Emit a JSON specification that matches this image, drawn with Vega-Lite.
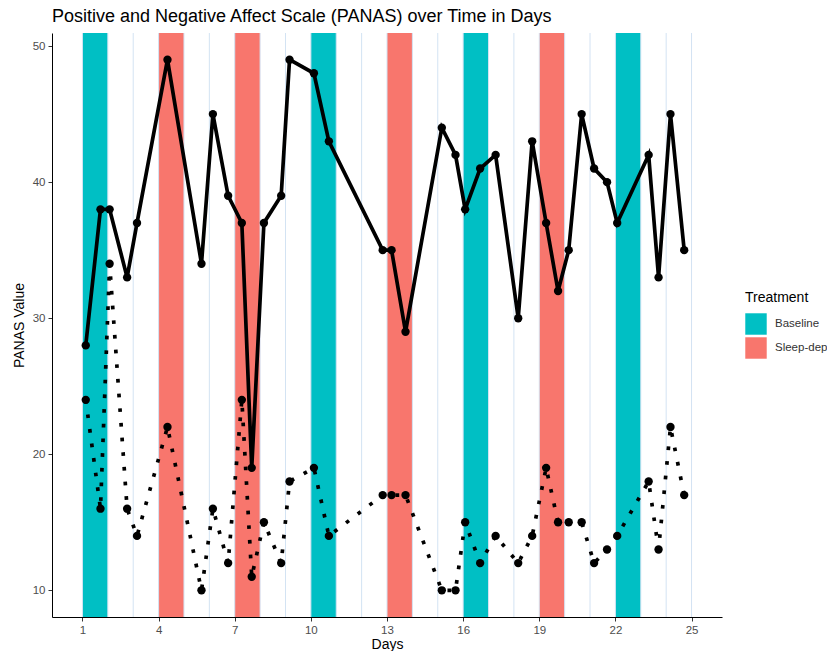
{
  "$schema": "https://vega.github.io/schema/vega-lite/v6.json",
  "autosize": {"type": "none"},
  "padding": {"left": 52, "top": 33, "right": 105, "bottom": 34},
  "width": 670,
  "height": 584,
  "background": "white",
  "title": {
    "text": "Positive and Negative Affect Scale (PANAS) over Time in Days",
    "anchor": "start",
    "frame": "group",
    "fontSize": 18,
    "fontWeight": "normal",
    "font": "Liberation Sans",
    "color": "black",
    "offset": 7
  },
  "config": {
    "view": {"stroke": null},
    "font": "Liberation Sans",
    "axis": {
      "grid": false,
      "domainColor": "black",
      "domainWidth": 1,
      "tickColor": "#333333",
      "tickSize": 4,
      "labelColor": "#4d4d4d",
      "labelFontSize": 11.5,
      "labelFont": "Liberation Sans",
      "titleFont": "Liberation Sans",
      "titleFontSize": 14,
      "titleFontWeight": "normal",
      "titleColor": "black"
    },
    "legend": {
      "titleFont": "Liberation Sans",
      "labelFont": "Liberation Sans"
    }
  },
  "datasets": {
    "bands": [
      {"start": 1, "end": 2, "treatment": "Baseline"},
      {"start": 4, "end": 5, "treatment": "Sleep-deprived"},
      {"start": 7, "end": 8, "treatment": "Sleep-deprived"},
      {"start": 10, "end": 11, "treatment": "Baseline"},
      {"start": 13, "end": 14, "treatment": "Sleep-deprived"},
      {"start": 16, "end": 17, "treatment": "Baseline"},
      {"start": 19, "end": 20, "treatment": "Sleep-deprived"},
      {"start": 22, "end": 23, "treatment": "Baseline"}
    ],
    "days": [
      {"d": 1}, {"d": 2}, {"d": 3}, {"d": 4}, {"d": 5}, {"d": 6}, {"d": 7}, {"d": 8}, {"d": 9}, {"d": 10},
      {"d": 11}, {"d": 12}, {"d": 13}, {"d": 14}, {"d": 15}, {"d": 16}, {"d": 17}, {"d": 18}, {"d": 19}, {"d": 20},
      {"d": 21}, {"d": 22}, {"d": 23}, {"d": 24}, {"d": 25}
    ],
    "panas": [
      {"day": 1.13, "pa": 28, "na": 24},
      {"day": 1.71, "pa": 38, "na": 16},
      {"day": 2.07, "pa": 38, "na": 34},
      {"day": 2.76, "pa": 33, "na": 16},
      {"day": 3.15, "pa": 37, "na": 14},
      {"day": 4.35, "pa": 49, "na": 22},
      {"day": 5.69, "pa": 34, "na": 10},
      {"day": 6.14, "pa": 45, "na": 16},
      {"day": 6.74, "pa": 39, "na": 12},
      {"day": 7.28, "pa": 37, "na": 24},
      {"day": 7.67, "pa": 19, "na": 11},
      {"day": 8.15, "pa": 37, "na": 15},
      {"day": 8.83, "pa": 39, "na": 12},
      {"day": 9.16, "pa": 49, "na": 18},
      {"day": 10.12, "pa": 48, "na": 19},
      {"day": 10.71, "pa": 43, "na": 14},
      {"day": 12.83, "pa": 35, "na": 17},
      {"day": 13.18, "pa": 35, "na": 17},
      {"day": 13.73, "pa": 29, "na": 17},
      {"day": 15.16, "pa": 44, "na": 10},
      {"day": 15.7, "pa": 42, "na": 10},
      {"day": 16.08, "pa": 38, "na": 15},
      {"day": 16.67, "pa": 41, "na": 12},
      {"day": 17.28, "pa": 42, "na": 14},
      {"day": 18.17, "pa": 30, "na": 12},
      {"day": 18.72, "pa": 43, "na": 14},
      {"day": 19.27, "pa": 37, "na": 19},
      {"day": 19.74, "pa": 32, "na": 15},
      {"day": 20.16, "pa": 35, "na": 15},
      {"day": 20.67, "pa": 45, "na": 15},
      {"day": 21.16, "pa": 41, "na": 12},
      {"day": 21.67, "pa": 40, "na": 13},
      {"day": 22.07, "pa": 37, "na": 14},
      {"day": 23.31, "pa": 42, "na": 18},
      {"day": 23.7, "pa": 33, "na": 13},
      {"day": 24.17, "pa": 45, "na": 22},
      {"day": 24.71, "pa": 35, "na": 17}
    ]
  },
  "layer": [
    {
      "data": {"name": "bands"},
      "mark": {"type": "rect", "opacity": 1},
      "encoding": {
        "x": {
          "field": "start", "type": "quantitative",
          "scale": {"domain": [-0.2, 26.2], "nice": false, "zero": false},
          "axis": {"values": [1, 4, 7, 10, 13, 16, 19, 22, 25], "title": "Days", "titlePadding": 2, "labelPadding": 3}
        },
        "x2": {"field": "end"},
        "color": {
          "field": "treatment", "type": "nominal",
          "scale": {"domain": ["Baseline", "Sleep-deprived"], "range": ["#00BFC4", "#F8766D"]},
          "legend": {
            "title": "Treatment",
            "orient": "none",
            "legendX": 693,
            "legendY": 258,
            "titleFontSize": 14,
            "titleFontWeight": "normal",
            "titleColor": "black",
            "titlePadding": 8,
            "labelFontSize": 11.5,
            "labelColor": "#333333",
            "symbolType": "square",
            "symbolSize": 460,
            "symbolStrokeWidth": 0,
            "symbolOpacity": 1,
            "rowPadding": 2,
            "labelOffset": 8
          }
        }
      }
    },
    {
      "data": {"name": "days"},
      "mark": {"type": "rule", "color": "#d3e3f3", "strokeWidth": 1},
      "encoding": {
        "x": {"field": "d", "type": "quantitative"}
      }
    },
    {
      "data": {"name": "panas"},
      "mark": {"type": "line", "color": "black", "strokeWidth": 3.7},
      "encoding": {
        "x": {"field": "day", "type": "quantitative"},
        "y": {
          "field": "pa", "type": "quantitative",
          "scale": {"domain": [8.04, 50.96], "nice": false, "zero": false},
          "axis": {"values": [10, 20, 30, 40, 50], "title": "PANAS Value", "titlePadding": 6, "labelPadding": 3}
        }
      }
    },
    {
      "data": {"name": "panas"},
      "mark": {"type": "line", "color": "black", "strokeWidth": 3.7, "strokeDash": [3.7, 11], "strokeCap": "butt"},
      "encoding": {
        "x": {"field": "day", "type": "quantitative"},
        "y": {"field": "na", "type": "quantitative"}
      }
    },
    {
      "data": {"name": "panas"},
      "mark": {"type": "point", "filled": true, "color": "black", "opacity": 1, "size": 70},
      "encoding": {
        "x": {"field": "day", "type": "quantitative"},
        "y": {"field": "pa", "type": "quantitative"}
      }
    },
    {
      "data": {"name": "panas"},
      "mark": {"type": "point", "filled": true, "color": "black", "opacity": 1, "size": 70},
      "encoding": {
        "x": {"field": "day", "type": "quantitative"},
        "y": {"field": "na", "type": "quantitative"}
      }
    }
  ]
}
